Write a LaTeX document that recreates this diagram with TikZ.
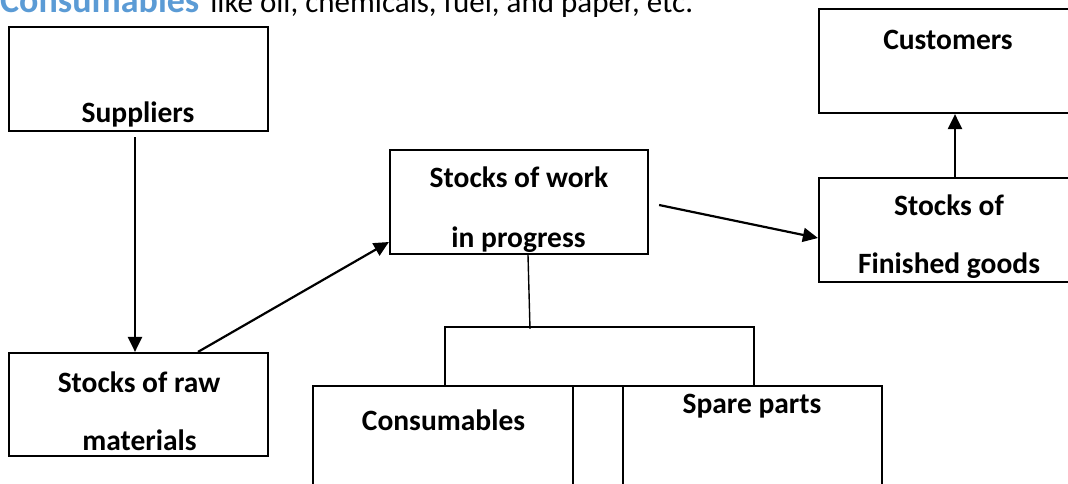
\documentclass[tikz,border=0pt]{standalone}
\usepackage{fontspec}
\setmainfont{Carlito}
\usetikzlibrary{arrows.meta}
\definecolor{hdrblue}{RGB}{91,155,213}
\begin{document}
\begin{tikzpicture}[x=1pt,y=-1pt,
  box/.style={draw, line width=2.2pt, inner sep=0pt, minimum width=259pt, minimum height=104pt},
  lbl/.style={anchor=base, inner sep=0pt, font=\bfseries\fontsize{29.5}{29.5}\selectfont},
  conn/.style={line width=2.2pt, -{Triangle[length=15pt,width=14pt]}}]
\useasboundingbox (0,0) rectangle (1068,484);
\clip (0,0) rectangle (1068,484);
\node[anchor=base west, inner sep=0pt] (hdr) at (0,13) {{\color{hdrblue}\bfseries\fontsize{36}{36}\selectfont Consumables}\hspace{11pt}{\fontsize{31}{31}\selectfont like oil, chemicals, fuel, and paper, etc.}};
% boxes
\node[box] (sup) at (138.5,79) {};
\node[box, minimum height=103pt] (raw) at (138.5,404.5) {};
\node[box, minimum width=258pt] (wip) at (519,202) {};
\node[box] (fg) at (948.5,230) {};
\node[box] (cus) at (948.5,61) {};
\node[box, minimum width=260pt] (con) at (443,438) {};
\node[box] (spa) at (752.5,438) {};
\node[box, minimum width=309pt, minimum height=59pt] (brk) at (599.5,356.5) {};
% labels
\node[lbl] (tsup) at (138,123) {Suppliers};
\node[lbl] (traw1) at (139,392) {Stocks of raw};
\node[lbl] (traw2) at (139.5,450) {materials};
\node[lbl] (twip1) at (519,187) {Stocks of work};
\node[lbl] (twip2) at (518.5,247) {in progress};
\node[lbl] (tfg1) at (949,215) {Stocks of};
\node[lbl] (tfg2) at (949,273) {Finished goods};
\node[lbl] (tcus) at (948,50) {Customers};
\node[lbl] (tcon) at (443.5,430) {Consumables};
\node[lbl] (tspa) at (752,413) {Spare parts};
% connectors
\draw[conn] ([xshift=-3.5pt,yshift=-5pt]sup.south) -- ([xshift=-3.5pt]raw.north);
\draw[conn] ([xshift=59.5pt]raw.north) -- ([yshift=-40pt]wip.west);
\draw[conn] ([xshift=10pt,yshift=-3pt]wip.east) -- ([yshift=-8pt]fg.west);
\draw[conn] ([xshift=6.5pt]fg.north) -- ([xshift=6.5pt]cus.south);
\draw[line width=1.4pt] ([xshift=9pt]wip.south) -- ([xshift=-69.5pt,yshift=-3pt]brk.north);
\end{tikzpicture}
\end{document}
